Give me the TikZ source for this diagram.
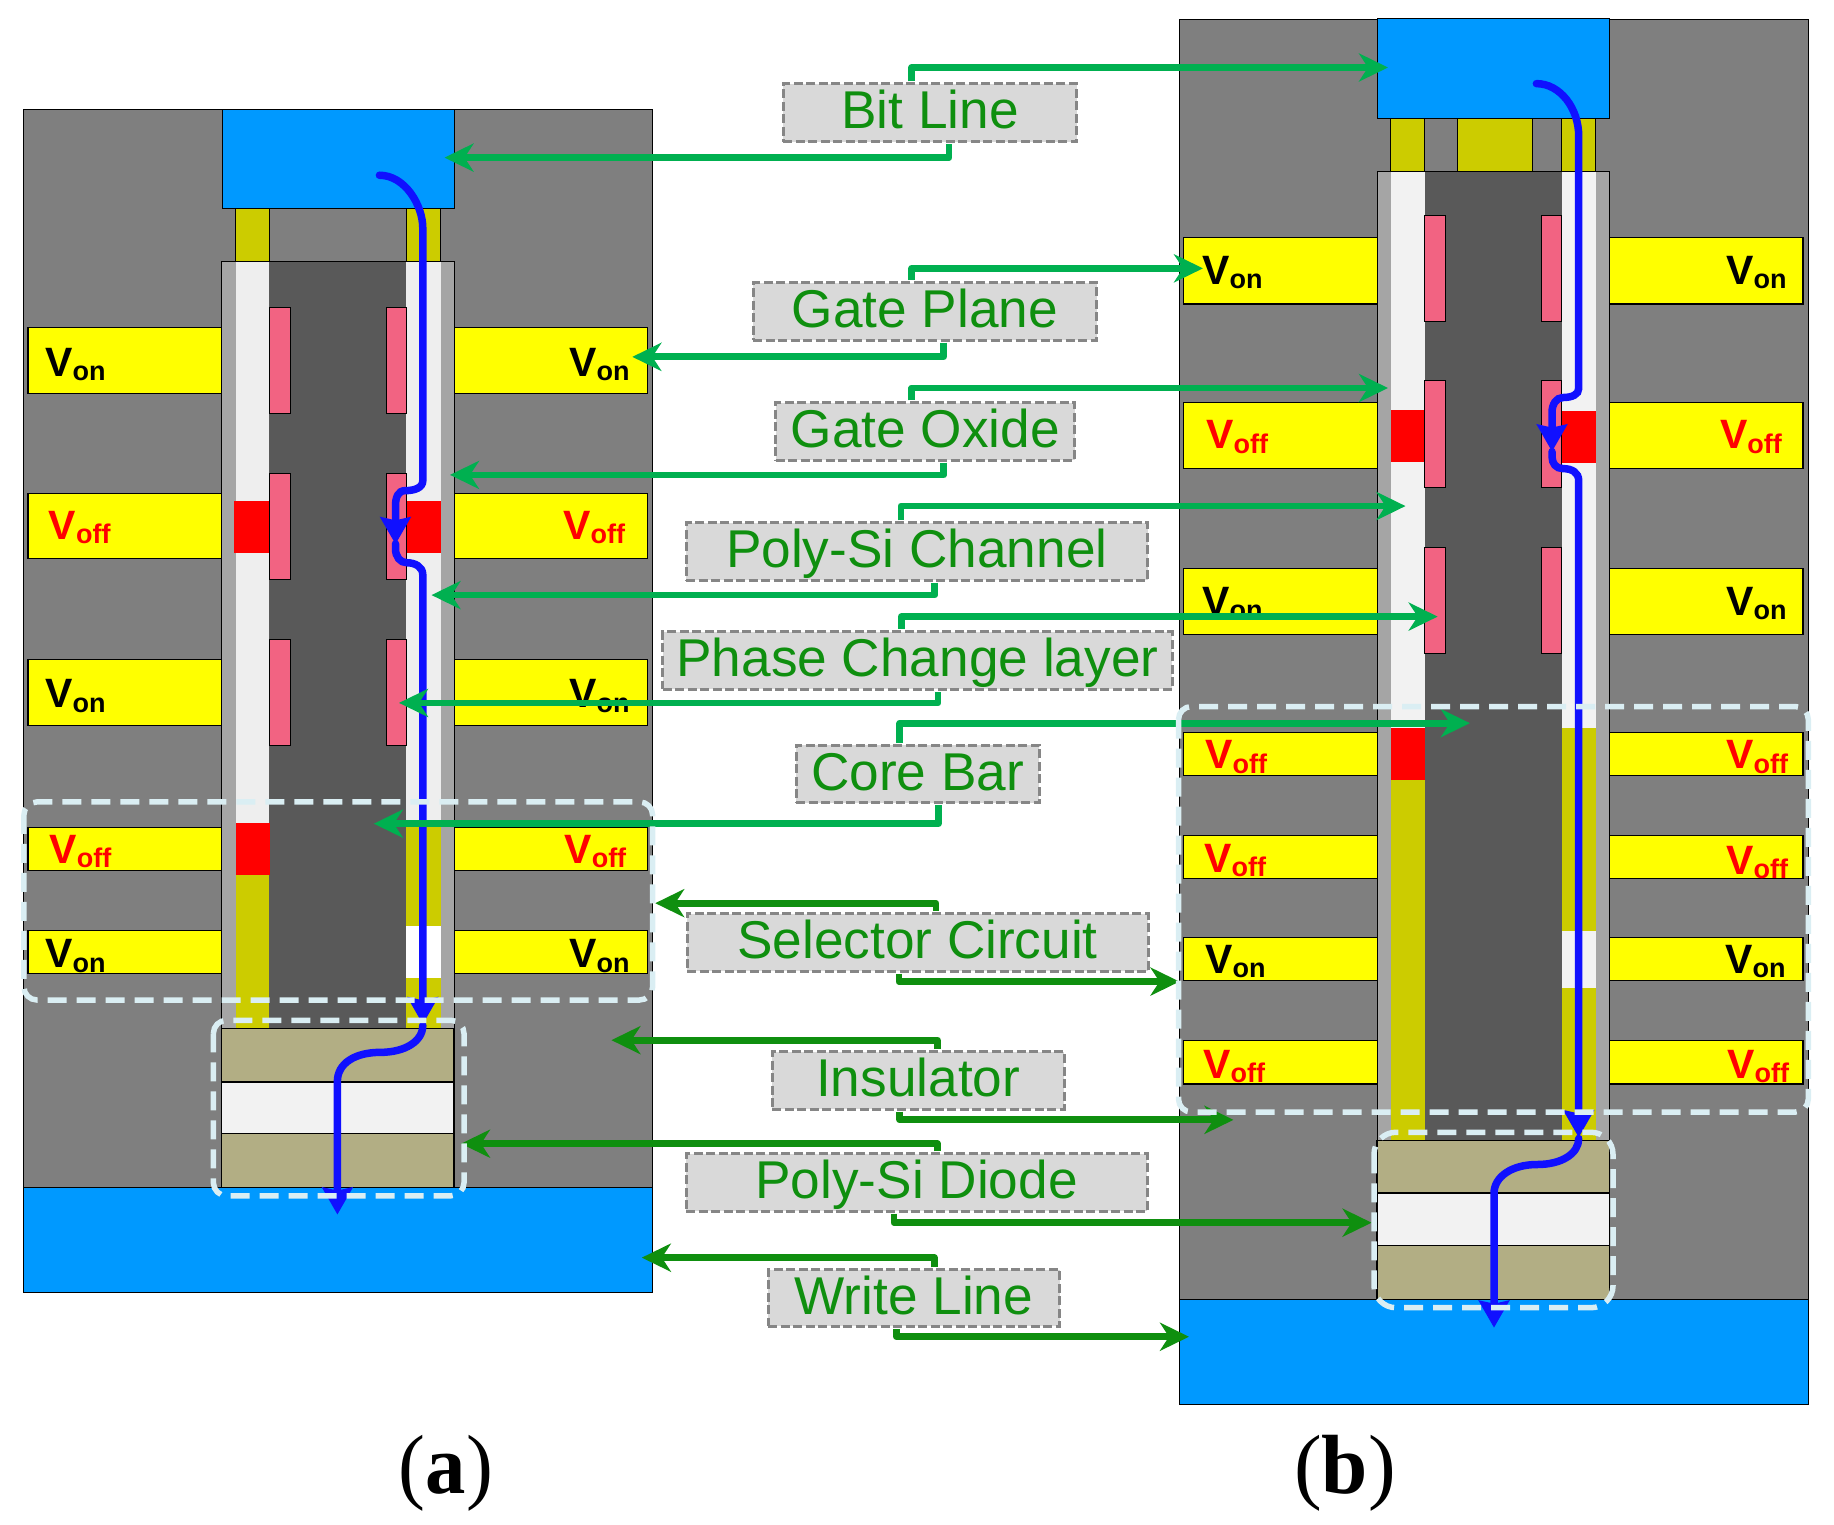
\documentclass[tikz,border=0pt]{standalone}
\usepackage{fontspec}
\usepackage{graphicx}
\setmainfont{Liberation Sans}
\newfontfamily\capfont{Liberation Serif}
\usetikzlibrary{arrows.meta}
\definecolor{bgray}{HTML}{7F7F7F}
\definecolor{oxgray}{HTML}{A5A5A5}
\definecolor{coregray}{HTML}{595959}
\definecolor{chanwhite}{HTML}{EEEEEE}
\definecolor{olive}{HTML}{CCCC00}
\definecolor{linecol}{HTML}{0099FF}
\definecolor{pinkox}{HTML}{F26382}
\definecolor{diodecol}{HTML}{B2AE84}
\definecolor{diodemid}{HTML}{F2F2F2}
\definecolor{curcol}{HTML}{1010FF}
\definecolor{lightgreen}{HTML}{00B050}
\definecolor{darkgreen}{HTML}{0F8F0F}
\definecolor{dashcol}{HTML}{DAEEF3}
\definecolor{boxfill}{HTML}{D9D9D9}
\definecolor{boxedge}{HTML}{868686}
\definecolor{gateyellow}{HTML}{FFFF00}
\definecolor{hotred}{HTML}{FF0000}
\tikzset{
  outl/.style={draw=black,line width=1.1pt},
  gate/.style={fill=gateyellow,outl},
  pinkbar/.style={fill=pinkox,draw=black,line width=.9pt},
  conlight/.style={draw=lightgreen,line width=6.8pt,line join=round,-{Stealth[length=29pt,width=28pt,inset=9pt]}},
  condark/.style={draw=darkgreen,line width=6.8pt,line join=round,-{Stealth[length=29pt,width=28pt,inset=9pt]}},
  cur/.style={draw=curcol,line width=7.5pt,line cap=round},
  curtip/.style={cur,-{Stealth[length=27pt,width=30pt,inset=3pt]}},
  region/.style={draw=dashcol,line width=5.5pt,dash pattern=on 19pt off 10pt},
  lbl/.style={draw=boxedge,fill=boxfill,line width=3pt,dash pattern=on 9pt off 3.5pt,text=darkgreen,
    font=\fontsize{53.2}{53.2}\selectfont,inner sep=0pt,text height=38pt,text depth=6pt,align=center},
  vtxt/.style={anchor=base west,inner sep=0pt,yshift=-2pt,font=\bfseries\fontsize{41}{41}\selectfont},
  captxt/.style={inner sep=0pt,anchor=base,font=\capfont\fontsize{84}{84}\selectfont},
}
\newcommand{\von}[3]{\node[vtxt,text=black] (#1) at (#2,#3) {V\raisebox{-4.5pt}{\fontsize{27}{27}\selectfont on}};}
\newcommand{\voff}[3]{\node[vtxt,text=hotred] (#1) at (#2,#3) {V\raisebox{-4.5pt}{\fontsize{27}{27}\selectfont off}};}
\newcommand{\lblbox}[6]{\node[lbl,minimum width=#4pt-#3pt,minimum height=#6pt-#5pt] (#1) at ({(#3+#4)/2},{(#5+#6)/2}) {#2};}
\begin{document}
\begin{tikzpicture}[x=1pt,y=-1.0013pt]
\useasboundingbox (0,0) rectangle (1834,1523);
% ===== panel (a) =====
\fill[bgray,outl] (23.4,109.3) rectangle (652.6,1186);
\fill[olive,outl] (235.5,208) rectangle (269.3,261.4);
\fill[olive,outl] (406.3,208) rectangle (440.6,261.4);
\foreach \t/\b in {327.5/393.2,492.5/558.2,658.2/724.6,826.5/869,929.3/972.2}{
  \draw[gate] (28,\t) rectangle (221.6,\b);
  \draw[gate] (454.5,\t) rectangle (647.4,\b);
}
\fill[oxgray,outl] (221.6,261.4) rectangle (454.5,1030);
\fill[chanwhite] (235.5,261.4) rectangle (269.3,1027);
\fill[chanwhite] (406.3,261.4) rectangle (440.6,1027);
\fill[coregray] (269.3,261.4) rectangle (406.3,1027);
\draw[black,line width=1.1pt] (221.6,261.4) -- (454.5,261.4);
\fill[hotred] (234,500) rectangle (269.7,551.8);
\fill[hotred] (406,500) rectangle (441,551.8);
\fill[hotred] (235.5,822.2) rectangle (269.7,874.2);
\fill[olive] (235.5,874.2) rectangle (269.3,1027);
\fill[olive] (406.3,825.6) rectangle (440.6,925);
\fill[white] (406.3,925) rectangle (440.6,976.5);
\fill[olive] (406.3,976.5) rectangle (440.6,1027);
\foreach \t/\b in {307.1/413.2,472.5/578.2,638.2/744.1}{
  \draw[pinkbar] (269.3,\t) rectangle (290.5,\b);
  \draw[pinkbar] (386.4,\t) rectangle (406.3,\b);
}
\fill[diodecol,outl] (221.6,1026.8) rectangle (454,1080.6);
\fill[diodemid,outl] (221.6,1080.6) rectangle (454,1132.2);
\fill[diodecol,outl] (221.6,1132.2) rectangle (454,1185.6);
\fill[linecol,outl] (23.4,1185.6) rectangle (652.6,1291);
\fill[linecol,outl] (222.5,109.3) rectangle (454.5,208.2);
\von{a1l}{45}{374}\von{a1r}{569}{374}
\voff{a2l}{48.6}{536.4}\voff{a2r}{563}{536.4}
\von{a3l}{45}{704.6}\von{a3r}{569}{704.6}
\voff{a4l}{49.4}{860.3}\voff{a4r}{564.2}{860.3}
\von{a5l}{45}{964.4}\von{a5r}{569}{964.4}
% ===== panel (b) =====
\fill[bgray,outl] (1179.3,19.6) rectangle (1808.7,1298);
\fill[olive,outl] (1390.7,118) rectangle (1424.5,171);
\fill[olive,outl] (1457.6,118) rectangle (1532.6,171);
\fill[olive,outl] (1561.8,118) rectangle (1595.7,171);
\foreach \t/\b in {237.5/303.6,402.2/468.3,567.4/634,731.3/774.5,834.6/877.3,936.6/979.3,1039.4/1082.6}{
  \draw[gate] (1183.6,\t) rectangle (1377.5,\b);
  \draw[gate] (1609.6,\t) rectangle (1803,\b);
}
\fill[oxgray,outl] (1377.5,171) rectangle (1609.6,1140);
\fill[diodemid] (1390.7,171) rectangle (1424.5,1139);
\fill[diodemid] (1561.8,171) rectangle (1595.7,1139);
\fill[coregray] (1424.5,171) rectangle (1561.8,1140);
\draw[black,line width=1.1pt] (1377.5,171) -- (1609.6,171);
\fill[hotred] (1390.7,409) rectangle (1424.5,461);
\fill[hotred] (1561,410) rectangle (1596,462);
\fill[hotred] (1390.7,726.7) rectangle (1424.5,778.6);
\fill[olive] (1390.7,778.6) rectangle (1424.5,1139);
\fill[olive] (1561.8,726.7) rectangle (1595.7,929.7);
\fill[olive] (1561.8,987) rectangle (1595.7,1139);
\foreach \t/\b in {215.6/321.4,380.4/486.6,546.4/652.2}{
  \draw[pinkbar] (1424.5,\t) rectangle (1445.7,\b);
  \draw[pinkbar] (1541.5,\t) rectangle (1561.8,\b);
}
\fill[diodecol,outl] (1377,1138.6) rectangle (1609.6,1191.4);
\fill[diodemid,outl] (1377,1191.4) rectangle (1609.6,1244.2);
\fill[diodecol,outl] (1377,1244.2) rectangle (1609.6,1297.4);
\fill[linecol,outl] (1179.3,1297.4) rectangle (1808.7,1403);
\fill[linecol,outl] (1377.5,18.3) rectangle (1609.6,118.3);
\von{b1l}{1202}{282}\von{b1r}{1726}{282}
\voff{b2l}{1206}{446.4}\voff{b2r}{1719.8}{446.4}
\von{b3l}{1202}{612.5}\von{b3r}{1726}{612.5}
\voff{b4l}{1205}{765.8}\voff{b4r}{1726}{765.8}
\voff{b5l}{1204}{869}\voff{b5r}{1726}{871}
\von{b6l}{1205}{970}\von{b6r}{1725}{970}
\voff{b7l}{1203}{1074.8}\voff{b7r}{1727}{1074.8}
% ===== current paths =====
\draw[curtip] (379.4,175) .. controls (405,175) and (422.8,205) .. (422.8,228) -- (422.8,480)
  .. controls (422.8,487) and (415,490) .. (405,490) .. controls (398,490) and (395.5,497) .. (395.5,505) -- (395.5,543.6);
\draw[curtip] (395.5,543) -- (395.5,548) .. controls (395.5,556) and (400,562) .. (407,562)
  .. controls (415,562) and (422.8,566) .. (422.8,574) -- (422.8,1023);
\draw[curtip] (422.8,1024) .. controls (422.8,1040) and (405,1051) .. (380,1051)
  .. controls (355,1051) and (337.4,1062) .. (337.4,1080) -- (337.4,1213);
\draw[curtip] (1536.4,83.5) .. controls (1560,83.5) and (1578.7,108) .. (1578.7,136) -- (1578.7,388)
  .. controls (1578.7,394) and (1572,397) .. (1563,397) .. controls (1556,397) and (1552,404) .. (1552,412) -- (1552,451);
\draw[curtip] (1552,451) -- (1552,456) .. controls (1552,463) and (1556,468) .. (1563,468)
  .. controls (1572,468) and (1578.7,472) .. (1578.7,480) -- (1578.7,1136);
\draw[curtip] (1578.7,1137) .. controls (1578.7,1152) and (1562,1163) .. (1537,1163)
  .. controls (1512,1163) and (1494,1175) .. (1494,1192) -- (1494,1326);
% ===== labels =====
\lblbox{bit}{Bit Line}{783.4}{1076.6}{83.7}{141.8}
\lblbox{gplane}{Gate Plane}{753}{1096.6}{282.3}{339.6}
\lblbox{goxide}{Gate Oxide}{775.5}{1074.8}{402.3}{459.5}
\lblbox{channel}{Poly-Si Channel}{686}{1147.6}{522.2}{579.5}
\lblbox{phase}{Phase Change layer}{662.8}{1172}{630.8}{688.5}
\lblbox{core}{Core Bar}{796}{1039}{744.2}{801.9}
\lblbox{selector}{Selector Circuit}{687}{1148}{912.5}{969.8}
\lblbox{insul}{Insulator}{772.3}{1064}{1050.2}{1107.8}
\lblbox{diode}{Poly-Si Diode}{686.2}{1147}{1152.4}{1209.7}
\lblbox{write}{Write Line}{768}{1059.7}{1268.2}{1324.6}
% ===== connector ends =====
\coordinate (bitA) at (444.5,157.4);   \coordinate (bitB) at (1388,67.4);
\coordinate (gplaneA) at (632.3,356.4);\coordinate (gplaneB) at (1203,268);
\coordinate (goxideA) at (450,474.3);  \coordinate (goxideB) at (1388,387.5);
\coordinate (channelA) at (431.5,594.3);\coordinate (channelB) at (1405.5,505.4);
\coordinate (phaseA) at (399,702);     \coordinate (phaseB) at (1437.7,615.8);
\coordinate (coreA) at (373.8,822.6);  \coordinate (coreB) at (1469.9,722.2);
\coordinate (selA) at (655.2,902);     \coordinate (selB) at (1179.5,980.3);
\coordinate (insA) at (611.4,1038.8);  \coordinate (insB) at (1233.5,1118.4);
\coordinate (diodeA) at (461,1142.2);  \coordinate (diodeB) at (1371.6,1221.1);
\coordinate (writeA) at (641.8,1256);  \coordinate (writeB) at (1189,1335);
\draw[conlight] ([xshift=19pt,yshift=-1pt]bit.south) |- (bitA);
\draw[conlight] ([xshift=-18.3pt,yshift=1pt]bit.north) |- (bitB);
\draw[conlight] ([xshift=19pt,yshift=-1pt]gplane.south) |- (gplaneA);
\draw[conlight] ([xshift=-13.1pt,yshift=1pt]gplane.north) |- (gplaneB);
\draw[conlight] ([xshift=18.6pt,yshift=-1pt]goxide.south) |- (goxideA);
\draw[conlight] ([xshift=-13.5pt,yshift=1pt]goxide.north) |- (goxideB);
\draw[conlight] ([xshift=18pt,yshift=-1pt]channel.south) |- (channelA);
\draw[conlight] ([xshift=-15.8pt,yshift=1pt]channel.north) |- (channelB);
\draw[conlight] ([xshift=20.6pt,yshift=-1pt]phase.south) |- (phaseA);
\draw[conlight] ([xshift=-16pt,yshift=1pt]phase.north) |- (phaseB);
\draw[conlight] ([xshift=20.9pt,yshift=-1pt]core.south) |- (coreA);
\draw[conlight] ([xshift=-17.7pt,yshift=1pt]core.north) |- (coreB);
\draw[condark] ([xshift=18.5pt,yshift=1pt]selector.north) |- (selA);
\draw[condark] ([xshift=-18.5pt,yshift=-1pt]selector.south) |- (selB);
\draw[condark] ([xshift=19.4pt,yshift=1pt]insul.north) |- (insA);
\draw[condark] ([xshift=-18.4pt,yshift=-1pt]insul.south) |- (insB);
\draw[condark] ([xshift=20.7pt,yshift=1pt]diode.north) |- (diodeA);
\draw[condark] ([xshift=-22.6pt,yshift=-1pt]diode.south) |- (diodeB);
\draw[condark] ([xshift=20.3pt,yshift=1pt]write.north) |- (writeA);
\draw[condark] ([xshift=-17.5pt,yshift=-1pt]write.south) |- (writeB);
% ===== dashed regions =====
\draw[region,rounded corners=13pt] (23.9,800.9) rectangle (652.6,998.7);
\draw[region,rounded corners=13pt] (213.4,1019) rectangle (464,1194.2);
\draw[region,rounded corners=13pt] (1178.5,705.6) rectangle (1808.3,1110.6);
\draw[region,rounded corners=22pt] (1374,1130.8) rectangle (1613,1306);
% ===== captions =====
\node[captxt] (capa) at (446,1492) {\scalebox{.96}[1]{(\textbf{a})}};
\node[captxt] (capb) at (1345,1492) {\scalebox{.99}[1]{(\textbf{b})}};
\end{tikzpicture}
\end{document}
